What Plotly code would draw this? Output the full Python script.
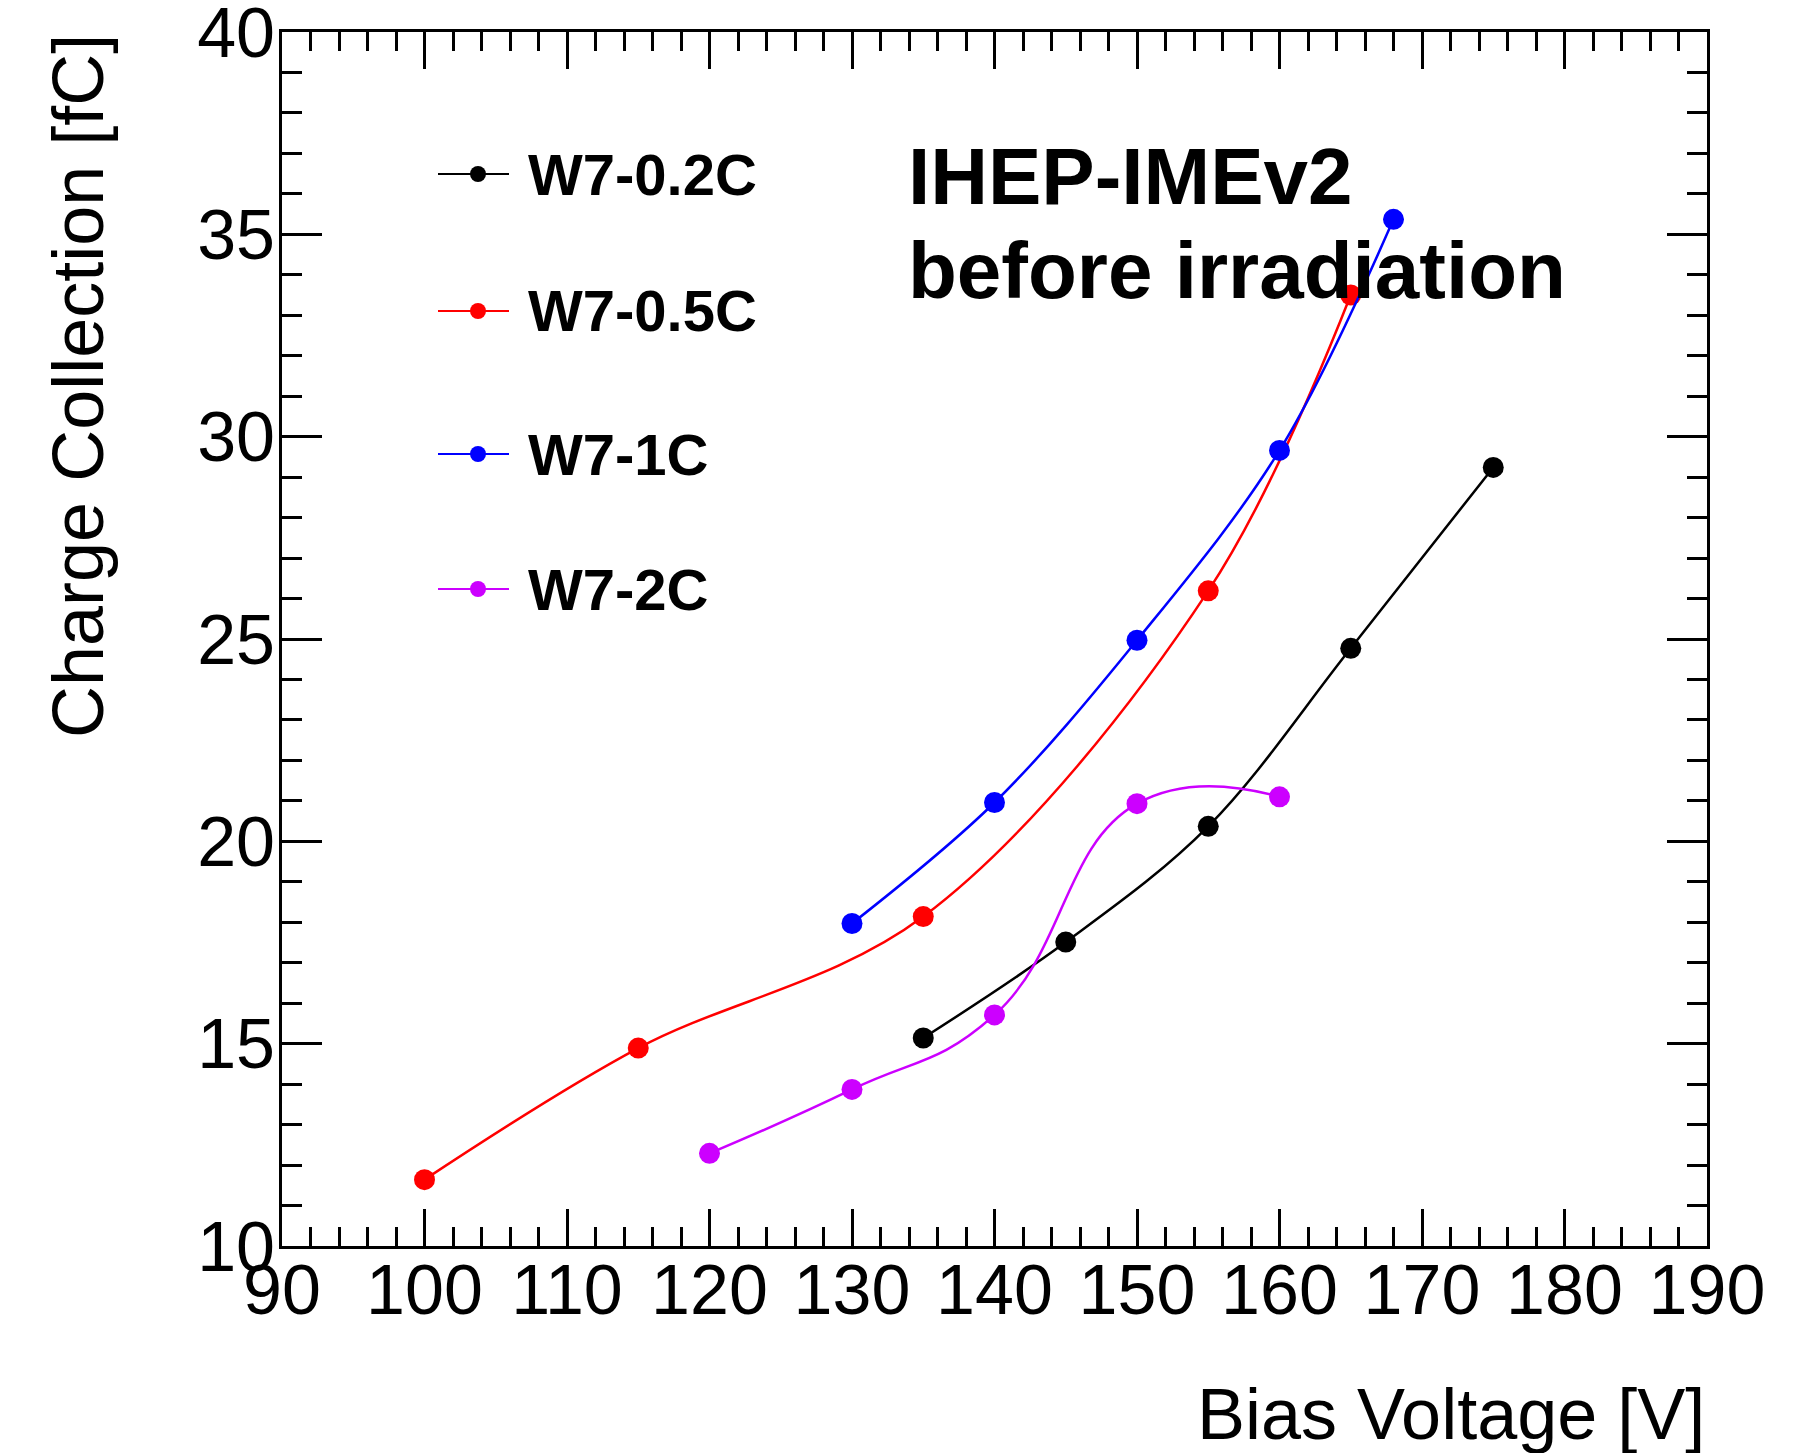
import plotly.graph_objects as go

# ---- data ----
series_names = ["W7-0.2C", "W7-0.5C", "W7-1C", "W7-2C"]
series_colors = ["#000000", "#ff0000", "#0000ff", "#cc00ff"]

x_02C = [135, 145, 155, 165, 175]
y_02C = [15.14, 17.51, 20.37, 24.77, 29.24]

x_05C = [100, 115, 135, 155, 165]
y_05C = [11.64, 14.89, 18.14, 26.19, 33.50]

x_1C = [130, 140, 150, 160, 168]
y_1C = [17.97, 20.96, 24.97, 29.66, 35.37]

x_2C = [120, 130, 140, 150, 160]
y_2C = [12.29, 13.87, 15.71, 20.93, 21.10]

xs = [x_02C, x_05C, x_1C, x_2C]
ys = [y_02C, y_05C, y_1C, y_2C]
smoothing = [1.0, 1.0, 1.0, 1.3]

x_title = "Bias Voltage [V]"
y_title = "Charge Collection [fC]"
label_lines = ["IHEP-IMEv2", "before irradiation"]

# ---- layout geometry (pixels) ----
W, H = 1793, 1453
L, R, T, B = 282, 1707, 32, 1246
FONT = "Liberation Sans, Arial, Helvetica, sans-serif"


def px(x):
    return (x - L) / (R - L)


def py(y):
    return (B - y) / (B - T)


fig = go.Figure()
for name, color, x, y, sm in zip(series_names, series_colors, xs, ys, smoothing):
    fig.add_trace(go.Scatter(
        x=x, y=y, name=name, mode="lines+markers",
        line=dict(color=color, width=2.5, shape="spline", smoothing=sm),
        marker=dict(color=color, size=21),
        showlegend=False,
    ))

axis_common = dict(
    showline=True, linecolor="black", linewidth=3, mirror="ticks",
    ticks="inside", tickwidth=2.5, tickcolor="black",
    showgrid=False, zeroline=False, automargin=False,
    tickfont=dict(family=FONT, size=70, color="black"),
    ticklabeloverflow="allow",
)

fig.update_xaxes(
    range=[90, 190], dtick=10, tick0=90, ticklen=37,
    minor=dict(ticks="inside", dtick=2, ticklen=19, tickwidth=2.5, tickcolor="black", showgrid=False),
    ticklabelstandoff=-19,
    **axis_common,
)
fig.update_yaxes(
    range=[10, 40], dtick=5, tick0=10, ticklen=40,
    minor=dict(ticks="inside", dtick=1, ticklen=20, tickwidth=2.5, tickcolor="black", showgrid=False),
    ticklabelstandoff=-10,
    **axis_common,
)

annotations = [
    dict(text=x_title, x=1, xanchor="right", y=py(1414), yanchor="middle",
         xref="paper", yref="paper", showarrow=False,
         font=dict(family=FONT, size=72, color="black")),
    dict(text=y_title, x=px(78), xanchor="center", y=1, yanchor="top",
         xref="paper", yref="paper", showarrow=False, textangle=-90,
         font=dict(family=FONT, size=72, color="black")),
    dict(text="<b>%s</b>" % label_lines[0], x=px(906), xanchor="left", y=py(177), yanchor="middle",
         xref="paper", yref="paper", showarrow=False,
         font=dict(family=FONT, size=80, color="black")),
    dict(text="<b>%s</b>" % label_lines[1], x=px(906), xanchor="left", y=py(271), yanchor="middle",
         xref="paper", yref="paper", showarrow=False,
         font=dict(family=FONT, size=80, color="black")),
]

# manual legend
legend_rows = [174, 311, 454, 589]
shapes = []
for name, color, ry in zip(series_names, series_colors, legend_rows):
    shapes.append(dict(type="line", xref="paper", yref="paper",
                       x0=px(438), x1=px(509), y0=py(ry), y1=py(ry),
                       line=dict(color=color, width=2)))
    shapes.append(dict(type="circle", xref="paper", yref="paper",
                       xsizemode="pixel", ysizemode="pixel",
                       xanchor=px(478), yanchor=py(ry),
                       x0=-8, x1=8, y0=-8, y1=8,
                       fillcolor=color, line=dict(width=0)))
    annotations.append(dict(text="<b>%s</b>" % name, x=px(526), xanchor="left",
                            y=py(ry), yanchor="middle", xref="paper", yref="paper",
                            showarrow=False,
                            font=dict(family=FONT, size=58, color="black")))

fig.update_layout(
    width=W, height=H,
    margin=dict(l=L, r=W - R, t=T, b=H - B, autoexpand=False),
    paper_bgcolor="white", plot_bgcolor="white",
    showlegend=False,
    annotations=annotations,
    shapes=shapes,
)

fig.write_html("out.html")
